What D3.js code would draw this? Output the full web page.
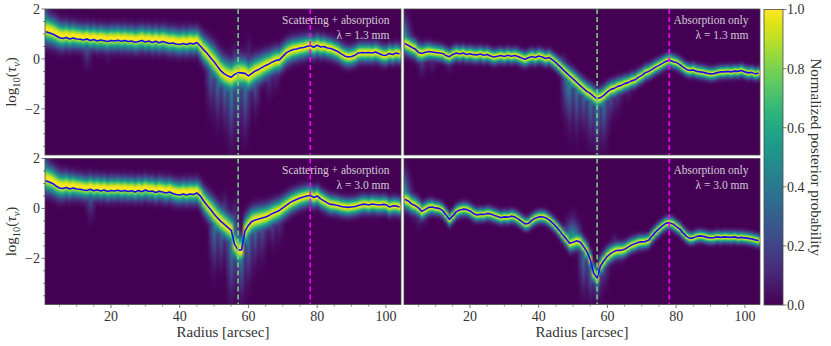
<!DOCTYPE html>
<html>
<head>
<meta charset="utf-8">
<script src="https://cdn.jsdelivr.net/npm/d3@7"></script>
<style>
  body { margin: 0; background: #fff; }
  svg { display: block; }
  text { font-family: "Liberation Serif", "DejaVu Serif", serif; }
</style>
</head>
<body>
<svg id="chart" width="831" height="346"></svg>
<script>
// radius bins [arcsec]
const radius = d3.range(1, 105);

// median log10(tau) per radius bin
const medTL = [1.09,1.05,1.00,0.93,0.85,0.82,0.86,0.80,0.84,0.80,0.79,0.76,0.80,0.74,0.78,0.72,0.76,0.73,0.70,0.74,
  0.72,0.75,0.71,0.74,0.70,0.72,0.67,0.70,0.74,0.68,0.72,0.66,0.71,0.65,0.70,0.66,0.62,0.64,0.60,0.58,
  0.62,0.58,0.63,0.60,0.66,0.52,0.36,0.22,0.05,-0.11,-0.30,-0.48,-0.60,-0.68,-0.73,-0.62,-0.55,-0.56,-0.58,-0.68,
  -0.58,-0.48,-0.42,-0.34,-0.26,-0.20,-0.12,-0.06,-0.04,0.10,0.24,0.32,0.38,0.40,0.44,0.46,0.50,0.54,0.47,0.55,
  0.48,0.50,0.44,0.42,0.36,0.30,0.20,0.12,0.08,0.10,0.15,0.24,0.26,0.25,0.26,0.24,0.28,0.22,0.16,0.14,
  0.22,0.18,0.24,0.20];
const medTR = [0.62,0.55,0.47,0.40,0.26,0.22,0.27,0.30,0.28,0.26,0.24,0.22,0.14,0.09,0.18,0.24,0.20,0.24,0.18,0.21,
  0.17,0.16,0.20,0.15,0.18,0.12,0.08,0.11,0.14,0.10,0.15,0.11,0.14,0.10,0.04,-0.01,0.05,0.10,0.06,0.12,
  0.08,0.02,0.06,-0.04,-0.15,-0.28,-0.42,-0.55,-0.68,-0.80,-0.93,-1.06,-1.18,-1.30,-1.38,-1.50,-1.60,-1.55,-1.45,-1.32,
  -1.22,-1.18,-1.10,-1.06,-0.99,-0.95,-0.88,-0.84,-0.74,-0.66,-0.55,-0.50,-0.42,-0.33,-0.26,-0.18,-0.10,-0.04,-0.10,-0.14,
  -0.22,-0.33,-0.42,-0.46,-0.44,-0.50,-0.52,-0.54,-0.58,-0.60,-0.59,-0.55,-0.52,-0.52,-0.50,-0.52,-0.49,-0.50,-0.46,-0.52,
  -0.56,-0.54,-0.60,-0.57];
const medBL = [1.11,1.06,1.00,0.90,0.82,0.80,0.84,0.78,0.82,0.78,0.77,0.74,0.72,0.77,0.71,0.75,0.70,0.74,0.68,0.72,
  0.70,0.73,0.69,0.72,0.68,0.71,0.66,0.72,0.67,0.74,0.68,0.70,0.64,0.69,0.66,0.62,0.66,0.60,0.56,0.54,
  0.58,0.54,0.58,0.56,0.62,0.50,0.30,0.12,-0.04,-0.22,-0.38,-0.52,-0.64,-0.76,-0.88,-1.45,-1.66,-1.66,-0.90,-0.68,
  -0.52,-0.46,-0.42,-0.38,-0.34,-0.28,-0.20,-0.14,-0.08,0.02,0.12,0.22,0.30,0.36,0.42,0.46,0.50,0.52,0.44,0.50,
  0.38,0.30,0.22,0.16,0.15,0.12,0.08,0.06,0.04,0.06,0.08,0.12,0.16,0.17,0.14,0.18,0.16,0.14,0.16,0.15,
  0.06,0.10,0.10,0.06];
const medBR = [0.37,0.30,0.18,0.12,0.02,-0.12,-0.04,0.04,0.06,0.02,0.00,-0.08,-0.25,-0.44,-0.30,-0.13,-0.06,-0.03,-0.04,-0.10,
  -0.20,-0.26,-0.24,-0.24,-0.20,-0.22,-0.27,-0.32,-0.37,-0.34,-0.35,-0.31,-0.34,-0.42,-0.52,-0.62,-0.60,-0.48,-0.39,-0.34,
  -0.33,-0.37,-0.46,-0.58,-0.72,-0.88,-1.06,-1.22,-1.40,-1.36,-1.30,-1.34,-1.52,-1.72,-2.05,-2.60,-2.79,-2.30,-2.10,-1.92,
  -1.80,-1.72,-1.68,-1.68,-1.64,-1.55,-1.47,-1.42,-1.36,-1.34,-1.33,-1.28,-1.10,-0.95,-0.82,-0.70,-0.60,-0.57,-0.62,-0.72,
  -0.82,-0.98,-1.12,-1.20,-1.18,-1.12,-1.10,-1.12,-1.16,-1.18,-1.17,-1.14,-1.16,-1.14,-1.15,-1.16,-1.14,-1.18,-1.16,-1.18,
  -1.20,-1.22,-1.26,-1.29];

// width of the posterior band at a few radii
const sdKnots = [1, 10, 30, 45, 50, 58, 66, 75, 85, 104];
const sdTL = [0.34, 0.28, 0.28, 0.29, 0.38, 0.38, 0.30, 0.26, 0.23, 0.21];
const sdTR = [0.24, 0.18, 0.17, 0.17, 0.22, 0.22, 0.18, 0.16, 0.15, 0.14];
const sdBL = [0.34, 0.27, 0.26, 0.27, 0.34, 0.34, 0.28, 0.24, 0.21, 0.20];
const sdBR = [0.24, 0.16, 0.15, 0.15, 0.20, 0.22, 0.17, 0.15, 0.14, 0.14];

// band peak sits a little above the median at small radii (left panels)
const shiftKnots = [1, 44, 47, 104];
const shiftTL = [0.1, 0.1, 0, 0];
const shiftBL = [0.1, 0.1, 0, 0];
const shiftNone = [0, 0, 0, 0];

// faint posterior streaks: [radius, log10(tau) reached, strength]
const streakTL = [[1,2.3,0.8],[2,2.0,0.55],[5,1.7,0.28],[7,1.6,0.3],[12,1.6,0.3],[13,-0.4,0.35],[14,1.5,0.25],[19,-0.2,0.2],
  [23,1.4,0.2],[49,-2.2,0.4],[51,-2.7,0.45],[53,-2.9,0.4],[55,-3.6,0.5],[56,0.6,0.45],[57,-3.2,0.4],[59,-3.3,0.45],
  [60,0.9,0.25],[62,-2.3,0.35],[64,0.6,0.2],[66,-1.6,0.28],[68,-1.4,0.2]];
const streakTR = [[1,1.9,0.65],[2,1.5,0.45],[5,0.9,0.25],[6,-0.8,0.25],[9,-0.6,0.2],[14,-0.6,0.2],[47,0.2,0.45],[48,-2.6,0.4],
  [49,-3.0,0.45],[51,-3.2,0.4],[53,-3.0,0.35],[55,-3.5,0.4],[57,-3.9,0.45],[59,-3.6,0.4],[61,-2.6,0.28],[63,-2.3,0.2],[66,-1.8,0.16]];
const streakBL = [[1,2.3,0.8],[2,2.0,0.55],[5,1.7,0.3],[8,1.6,0.25],[13,1.6,0.3],[14,-0.5,0.35],[19,1.4,0.2],[50,-2.7,0.45],
  [52,-2.5,0.4],[53,0.6,0.4],[55,-3.8,0.5],[56,0.3,0.5],[58,-3.8,0.45],[60,-3.1,0.45],[62,-2.4,0.4],[64,-2.2,0.32],
  [67,-1.7,0.26],[69,-1.5,0.2]];
const streakBR = [[1,1.7,0.65],[2,1.3,0.4],[5,-0.8,0.25],[7,-0.7,0.2],[49,-0.3,0.6],[50,-0.2,0.6],[51,-0.4,0.5],[53,-3.6,0.4],
  [55,-3.8,0.4],[57,-3.8,0.4],[59,-3.2,0.32],[61,-2.4,0.26],[62,-1.0,0.26],[64,-2.3,0.2]];

// gap and ring locations [arcsec]
const gapR = 57;
const ringR = 78;

const xTicks = [20, 40, 60, 80, 100];
const yTicks = [-2, 0, 2];
const cbTicks = [0, 0.2, 0.4, 0.6, 0.8, 1.0];
const models = ['Scattering + absorption', 'Absorption only'];
const wavelengths = ['1.3', '3.0'];

// layout
const colX = [45, 404];
const rowY = [9, 158.5];
const pw = 356, ph = 146;
const xDomain = [0.8, 104.4];
const yDomain = [-3.85, 2];
const font = '"Liberation Serif", "DejaVu Serif", serif';

const panels = [
  { col: 0, row: 0, med: medTL, sd: sdTL, shift: shiftTL, streaks: streakTL },
  { col: 1, row: 0, med: medTR, sd: sdTR, shift: shiftNone, streaks: streakTR },
  { col: 0, row: 1, med: medBL, sd: sdBL, shift: shiftBL, streaks: streakBL },
  { col: 1, row: 1, med: medBR, sd: sdBR, shift: shiftNone, streaks: streakBR }
];

const x = d3.scaleLinear().domain(xDomain).range([0, pw]);
const y = d3.scaleLinear().domain(yDomain).range([ph, 0]);

const svg = d3.select('#chart').style('font-family', font);
const defs = svg.append('defs');
defs.append('clipPath').attr('id', 'clip')
  .append('rect').attr('width', pw).attr('height', ph);

// density of a column at a given log10(tau)
function density(p, sdScale, shiftScale, i, v) {
  const c = p.med[i];
  const s = sdScale(radius[i]);
  const peak = c + shiftScale(radius[i]);
  let d = Math.exp(-0.5 * ((v - peak) / s) ** 2);
  p.streaks.forEach(([rs, to, amp]) => {
    const wx = Math.exp(-(((radius[i] - rs) / 1.1) ** 2));
    if (wx < 0.01) return;
    const t = (v - c) / (to - c);
    if (t < 0) return;
    const f = amp * wx * Math.exp(-2.5 * t * t);
    if (f > d) d = f;
  });
  return d;
}

const nRows = 240;
const rowV = d3.scaleLinear().domain([0, nRows]).range([yDomain[1], yDomain[0]]);

panels.forEach(p => {
  const g = svg.append('g')
    .attr('transform', `translate(${colX[p.col]},${rowY[p.row]})`);
  const sdScale = d3.scaleLinear().domain(sdKnots).range(p.sd).clamp(true);
  const shiftScale = d3.scaleLinear().domain(shiftKnots).range(p.shift).clamp(true);

  // heat map rendered into a small canvas, then stretched
  const canvas = document.createElement('canvas');
  canvas.width = radius.length;
  canvas.height = nRows;
  const ctx = canvas.getContext('2d');
  const img = ctx.createImageData(radius.length, nRows);
  for (let j = 0; j < nRows; j++) {
    const v = rowV(j + 0.5);
    for (let i = 0; i < radius.length; i++) {
      const c = d3.rgb(d3.interpolateViridis(Math.min(1, density(p, sdScale, shiftScale, i, v))));
      const k = (j * radius.length + i) * 4;
      img.data[k] = c.r; img.data[k + 1] = c.g; img.data[k + 2] = c.b; img.data[k + 3] = 255;
    }
  }
  ctx.putImageData(img, 0, 0);

  const inner = g.append('g').attr('clip-path', 'url(#clip)');
  inner.append('rect').attr('width', pw).attr('height', ph).style('fill', d3.interpolateViridis(0));
  inner.append('image')
    .attr('href', canvas.toDataURL())
    .attr('x', x(radius[0] - 0.5))
    .attr('y', y(yDomain[1]))
    .attr('width', x(radius[radius.length - 1] + 0.5) - x(radius[0] - 0.5))
    .attr('height', y(yDomain[0]) - y(yDomain[1]))
    .attr('preserveAspectRatio', 'none');

  // median
  inner.append('path')
    .datum(p.med)
    .attr('d', d3.line().x((d, i) => x(radius[i])).y(d => y(d)))
    .style('fill', 'none')
    .style('stroke', '#1010f5')
    .style('stroke-width', 1.6)
    .style('stroke-linejoin', 'round');

  // gap and ring
  inner.append('line')
    .attr('x1', x(gapR)).attr('x2', x(gapR)).attr('y1', 0).attr('y2', ph)
    .style('stroke', '#74cc84').style('stroke-width', 1.6).style('stroke-dasharray', '5,3');
  inner.append('line')
    .attr('x1', x(ringR)).attr('x2', x(ringR)).attr('y1', 0).attr('y2', ph)
    .style('stroke', '#ff00ff').style('stroke-width', 1.6).style('stroke-dasharray', '5,3');

  // labels
  const lab = g.append('text')
    .attr('text-anchor', 'end')
    .style('font-family', font)
    .style('font-size', '11.5px')
    .style('fill', '#d2cbd6');
  lab.append('tspan').attr('x', pw - 11.5).attr('y', 15).text(models[p.col]);
  lab.append('tspan').attr('x', pw - 11.5).attr('y', 30).text(`λ = ${wavelengths[p.row]} mm`);

  // frame
  g.append('rect').attr('width', pw).attr('height', ph)
    .style('fill', 'none').style('stroke', '#4a4a4a').style('stroke-width', 0.8);

  // x ticks on bottom row
  if (p.row === 1) {
    const minor = d3.range(5, 105, 5).filter(t => !xTicks.includes(t));
    g.selectAll('.xminor').data(minor).enter().append('line')
      .attr('x1', d => x(d)).attr('x2', d => x(d)).attr('y1', ph).attr('y2', ph + 2)
      .style('stroke', '#555').style('stroke-width', 0.7);
    g.selectAll('.xmajor').data(xTicks).enter().append('line')
      .attr('x1', d => x(d)).attr('x2', d => x(d)).attr('y1', ph).attr('y2', ph + 3.5)
      .style('stroke', '#555').style('stroke-width', 0.8);
    g.selectAll('.xlab').data(xTicks).enter().append('text')
      .attr('x', d => x(d)).attr('y', ph + 16)
      .attr('text-anchor', 'middle')
      .style('font-family', font)
      .style('font-size', '14px').style('fill', '#333')
      .text(d => d);
    g.append('text')
      .attr('x', pw / 2).attr('y', ph + 32)
      .attr('text-anchor', 'middle')
      .style('font-family', font)
      .style('font-size', '15px').style('fill', '#333')
      .text('Radius [arcsec]');
  }

  // y ticks on left column
  if (p.col === 0) {
    const minor = d3.range(-3.5, 2, 0.5).filter(t => !yTicks.includes(t));
    g.selectAll('.yminor').data(minor).enter().append('line')
      .attr('x1', -2).attr('x2', 0).attr('y1', d => y(d)).attr('y2', d => y(d))
      .style('stroke', '#555').style('stroke-width', 0.7);
    g.selectAll('.ymajor').data(yTicks).enter().append('line')
      .attr('x1', -3.5).attr('x2', 0).attr('y1', d => y(d)).attr('y2', d => y(d))
      .style('stroke', '#555').style('stroke-width', 0.8);
    g.selectAll('.ylab').data(yTicks).enter().append('text')
      .attr('x', -5).attr('y', d => y(d)).attr('dy', '0.35em')
      .attr('text-anchor', 'end')
      .style('font-family', font)
      .style('font-size', '14px').style('fill', '#333')
      .text(d => d < 0 ? '\u2212' + Math.abs(d) : d);
    const yl = g.append('text')
      .attr('transform', `translate(${16 - colX[0]},${ph / 2}) rotate(-90)`)
      .attr('text-anchor', 'middle')
      .style('font-family', font)
      .style('font-size', '15px').style('fill', '#333');
    yl.append('tspan').text('log');
    yl.append('tspan').attr('dy', 4).style('font-size', '10.5px').text('10');
    yl.append('tspan').attr('dy', -4).text('(');
    yl.append('tspan').style('font-style', 'italic').text('τ');
    yl.append('tspan').attr('dy', 4).style('font-size', '10.5px').style('font-style', 'italic').text('ν');
    yl.append('tspan').attr('dy', -4).text(')');
  }
});

// colorbar
const cbX = 764, cbW = 19, cbTop = 9.5, cbBot = 305;
const cbScale = d3.scaleLinear().domain([0, 1]).range([cbBot, cbTop]);
const grad = defs.append('linearGradient').attr('id', 'viridis')
  .attr('x1', 0).attr('x2', 0).attr('y1', 1).attr('y2', 0);
d3.range(0, 1.0001, 0.05).forEach(t => {
  grad.append('stop').attr('offset', t).attr('stop-color', d3.interpolateViridis(t));
});
svg.append('rect')
  .attr('x', cbX).attr('y', cbTop).attr('width', cbW).attr('height', cbBot - cbTop)
  .style('fill', 'url(#viridis)').style('stroke', '#4a4a4a').style('stroke-width', 0.8);
svg.selectAll('.cbtick').data(cbTicks).enter().append('line')
  .attr('x1', cbX + cbW).attr('x2', cbX + cbW + 3.5)
  .attr('y1', d => cbScale(d)).attr('y2', d => cbScale(d))
  .style('stroke', '#555').style('stroke-width', 0.8);
svg.selectAll('.cblab').data(cbTicks).enter().append('text')
  .attr('x', cbX + cbW + 4).attr('y', d => cbScale(d)).attr('dy', '0.35em')
  .style('font-family', font)
  .style('font-size', '14px').style('fill', '#333')
  .text(d => d.toFixed(1));
svg.append('text')
  .attr('transform', `translate(811,${(cbTop + cbBot) / 2}) rotate(90)`)
  .attr('text-anchor', 'middle')
  .style('font-family', font)
  .style('font-size', '15px').style('fill', '#333')
  .text('Normalized posterior probability');
</script>
</body>
</html>
